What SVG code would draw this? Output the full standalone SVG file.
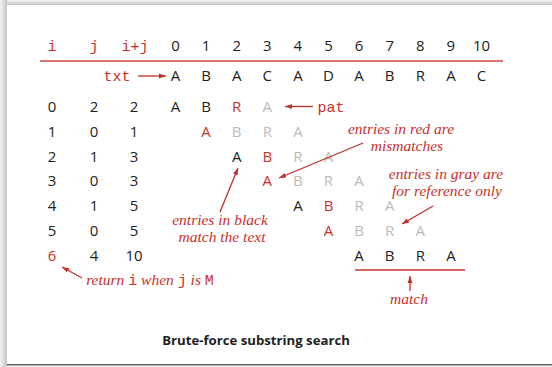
<svg xmlns="http://www.w3.org/2000/svg" width="552" height="367" viewBox="0 0 552 367">
<defs>
<linearGradient id="gt" x1="0" y1="0" x2="0" y2="1"><stop offset="0" stop-color="#f4f4f4"/><stop offset="1" stop-color="#c4c4c4"/></linearGradient>
<linearGradient id="gl" x1="0" y1="0" x2="1" y2="0"><stop offset="0" stop-color="#f4f4f4"/><stop offset="1" stop-color="#c4c4c4"/></linearGradient>
<marker id="ah" viewBox="0 0 10 10" refX="10" refY="5" markerWidth="7" markerHeight="7" markerUnits="userSpaceOnUse" orient="auto"><path d="M0,1.5 L10,5 L0,8.5 Z" fill="#c0302a"/></marker>
<style>
.s{font-family:"Open Sans","Liberation Sans",sans-serif;font-size:15px;text-anchor:middle;fill:#222}
.r{fill:#c8302a}
.g{fill:#bbbbbb}
.m{font-family:"Liberation Mono","DejaVu Sans Mono",monospace;font-size:15px;fill:#c8302a;text-anchor:middle}
.it{font-family:"Liberation Serif","DejaVu Serif",serif;font-style:italic;font-size:15.5px;fill:#c8302a;text-anchor:middle}
.mi{font-family:"Liberation Mono","DejaVu Sans Mono",monospace;font-style:normal;font-size:15px}
.ln{stroke:#c0302a;stroke-width:1.3;fill:none}
</style>
</defs>
<rect x="0" y="0" width="552" height="367" fill="#f4f4f4"/>
<rect x="0" y="0" width="552" height="5" fill="url(#gt)"/>
<rect x="0" y="0" width="7" height="367" fill="url(#gl)"/>
<rect x="7" y="5" width="545" height="359" fill="#fff"/>
<line x1="7" y1="364.8" x2="552" y2="364.8" stroke="#666" stroke-width="1.5"/>

<g id="header">
<text class="m" x="52" y="51">i</text>
<text class="m" x="94" y="51">j</text>
<text class="m" x="135" y="51">i+j</text>
<text class="s" x="175.5" y="51">0</text>
<text class="s" x="206.1" y="51">1</text>
<text class="s" x="236.7" y="51">2</text>
<text class="s" x="267.3" y="51">3</text>
<text class="s" x="297.9" y="51">4</text>
<text class="s" x="328.5" y="51">5</text>
<text class="s" x="359.1" y="51">6</text>
<text class="s" x="389.7" y="51">7</text>
<text class="s" x="420.3" y="51">8</text>
<text class="s" x="450.9" y="51">9</text>
<text class="s" x="481.5" y="51">10</text>
<line x1="40" y1="61" x2="503" y2="61" stroke="#d9776c" stroke-width="2"/>
</g>

<g id="txt">
<text class="m" x="117" y="81">txt</text>
<text class="s" x="175.5" y="81">A</text>
<text class="s" x="206.1" y="81">B</text>
<text class="s" x="236.7" y="81">A</text>
<text class="s" x="267.3" y="81">C</text>
<text class="s" x="297.9" y="81">A</text>
<text class="s" x="328.5" y="81">D</text>
<text class="s" x="359.1" y="81">A</text>
<text class="s" x="389.7" y="81">B</text>
<text class="s" x="420.3" y="81">R</text>
<text class="s" x="450.9" y="81">A</text>
<text class="s" x="481.5" y="81">C</text>
</g>

<g id="row0">
<text class="s" x="52" y="112">0</text><text class="s" x="94" y="112">2</text><text class="s" x="134" y="112">2</text>
<text class="s" x="175.5" y="112">A</text><text class="s" x="206.1" y="112">B</text><text class="s r" x="236.7" y="112">R</text><text class="s g" x="267.3" y="112">A</text>
<text class="m" x="331" y="112">pat</text>
</g>
<g id="row1">
<text class="s" x="52" y="137">1</text><text class="s" x="94" y="137">0</text><text class="s" x="134" y="137">1</text>
<text class="s r" x="206.1" y="137">A</text><text class="s g" x="236.7" y="137">B</text><text class="s g" x="267.3" y="137">R</text><text class="s g" x="297.9" y="137">A</text>
</g>
<g id="row2">
<text class="s" x="52" y="161.6">2</text><text class="s" x="94" y="161.6">1</text><text class="s" x="134" y="161.6">3</text>
<text class="s" x="236.7" y="161.6">A</text><text class="s r" x="267.3" y="161.6">B</text><text class="s g" x="297.9" y="161.6">R</text><text class="s g" x="328.5" y="161.6">A</text>
</g>
<g id="row3">
<text class="s" x="52" y="186.4">3</text><text class="s" x="94" y="186.4">0</text><text class="s" x="134" y="186.4">3</text>
<text class="s r" x="267.3" y="186.4">A</text><text class="s g" x="297.9" y="186.4">B</text><text class="s g" x="328.5" y="186.4">R</text><text class="s g" x="359.1" y="186.4">A</text>
</g>
<g id="row4">
<text class="s" x="52" y="211.2">4</text><text class="s" x="94" y="211.2">1</text><text class="s" x="134" y="211.2">5</text>
<text class="s" x="297.9" y="211.2">A</text><text class="s r" x="328.5" y="211.2">B</text><text class="s g" x="359.1" y="211.2">R</text><text class="s g" x="389.7" y="211.2">A</text>
</g>
<g id="row5">
<text class="s" x="52" y="236">5</text><text class="s" x="94" y="236">0</text><text class="s" x="134" y="236">5</text>
<text class="s r" x="328.5" y="236">A</text><text class="s g" x="359.1" y="236">B</text><text class="s g" x="389.7" y="236">R</text><text class="s g" x="420.3" y="236">A</text>
</g>
<g id="row6">
<text class="s r" x="52" y="260.8">6</text><text class="s" x="94" y="260.8">4</text><text class="s" x="134" y="260.8">10</text>
<text class="s" x="359.1" y="260.8">A</text><text class="s" x="389.7" y="260.8">B</text><text class="s" x="420.3" y="260.8">R</text><text class="s" x="450.9" y="260.8">A</text>
<line x1="355" y1="270" x2="465" y2="270" stroke="#c8302a" stroke-width="1.3"/>
</g>

<g id="notes">
<text class="it" x="401" y="134">entries in red are</text>
<text class="it" x="407" y="151">mismatches</text>
<text class="it" x="446" y="179">entries in gray are</text>
<text class="it" x="447" y="196">for reference only</text>
<text class="it" x="220" y="225">entries in black</text>
<text class="it" x="222" y="242">match the text</text>
<text class="it" x="409" y="304">match</text>
<text class="it" x="150" y="285"><tspan>return </tspan><tspan class="mi">i</tspan><tspan> when </tspan><tspan class="mi">j</tspan><tspan> is </tspan><tspan class="mi">M</tspan></text>
</g>

<g id="connectors">
<line class="ln" x1="138" y1="76" x2="166" y2="76" marker-end="url(#ah)"/>
<line class="ln" x1="313" y1="106.5" x2="285" y2="106.5" marker-end="url(#ah)"/>
<line class="ln" x1="363" y1="143" x2="279" y2="178" marker-end="url(#ah)"/>
<line class="ln" x1="433" y1="206" x2="402" y2="224" marker-end="url(#ah)"/>
<line class="ln" x1="220" y1="212" x2="238" y2="168" marker-end="url(#ah)"/>
<line class="ln" x1="82" y1="278" x2="62" y2="267" marker-end="url(#ah)"/>
<line class="ln" x1="410" y1="291" x2="410" y2="276" marker-end="url(#ah)"/>
</g>

<g id="title">
<text x="256" y="345" style="font-family:'Open Sans','Liberation Sans',sans-serif;font-weight:bold;font-size:13.2px;fill:#222;text-anchor:middle">Brute-force substring search</text>
</g>
</svg>
